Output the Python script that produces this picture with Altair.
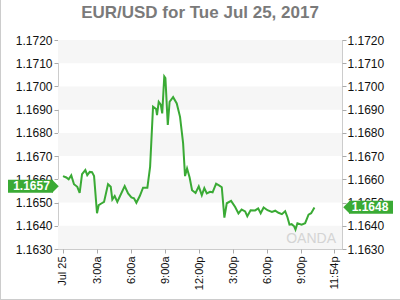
import altair as alt
import pandas as pd

# ---- data ----
hours = [0.00, 0.29, 0.50, 0.73, 0.97, 1.26, 1.47, 1.68, 1.97, 2.14, 2.36, 2.56, 2.74,
         3.00, 3.15, 3.38, 3.62, 3.97, 4.21, 4.35, 4.56, 4.79, 5.00, 5.44, 5.74, 6.03,
         6.26, 6.47, 6.77, 7.06, 7.44, 7.68, 7.94, 8.21, 8.29, 8.44, 8.62, 8.75, 8.93,
         9.03, 9.24, 9.40, 9.71, 10.03, 10.32, 10.59, 10.76, 10.94, 11.16, 11.38, 11.69,
         11.97, 12.24, 12.46, 12.68, 12.97, 13.19, 13.50, 13.79, 14.00, 14.23, 14.44,
         14.82, 15.18, 15.47, 15.75, 16.06, 16.25, 16.54, 16.94, 17.21, 17.43, 17.69,
         18.03, 18.42, 18.71, 19.00, 19.30, 19.59, 19.79, 19.97, 20.16, 20.38, 20.50,
         20.67, 21.04, 21.35, 21.65, 21.88, 22.17]
prices = [1.16614, 1.16608, 1.16600, 1.16617, 1.16579, 1.16568, 1.16542, 1.16622, 1.16640,
          1.16618, 1.16632, 1.16631, 1.16614, 1.16454, 1.16489, 1.16496, 1.16503, 1.16579,
          1.16568, 1.16513, 1.16528, 1.16503, 1.16525, 1.16571, 1.16539, 1.16522, 1.16518,
          1.16499, 1.16528, 1.16564, 1.16564, 1.16654, 1.16913, 1.16903, 1.16877, 1.16934,
          1.16922, 1.16884, 1.17043, 1.17036, 1.16834, 1.16934, 1.16954, 1.16927, 1.16869,
          1.16756, 1.16614, 1.16647, 1.16609, 1.16553, 1.16541, 1.16570, 1.16532, 1.16562,
          1.16539, 1.16546, 1.16544, 1.16581, 1.16573, 1.16566, 1.16435, 1.16497, 1.16507,
          1.16481, 1.16453, 1.16470, 1.16462, 1.16441, 1.16467, 1.16466, 1.16475, 1.16454,
          1.16479, 1.16467, 1.16460, 1.16465, 1.16456, 1.16450, 1.16463, 1.16437, 1.16405,
          1.16407, 1.16398, 1.16384, 1.16411, 1.16405, 1.16411, 1.16448, 1.16454, 1.16479]

y_ticks = [1.1630, 1.1640, 1.1650, 1.1660, 1.1670, 1.1680, 1.1690, 1.1700, 1.1710, 1.1720]
x_tick_hours = [0, 3, 6, 9, 12, 15, 18, 21, 23.9]
x_tick_labels = ["Jul 25", "3:00a", "6:00a", "9:00a", "12:00p", "3:00p", "6:00p", "9:00p", "11:54p"]
band_lo = [1.1710, 1.1690, 1.1670, 1.1650, 1.1630]
band_hi = [1.1720, 1.1700, 1.1680, 1.1660, 1.1640]
prev_close = 1.1657
last_price = 1.1648
title_text = "EUR/USD for Tue Jul 25, 2017"

W, H = 284, 209
GREEN = "#3aaa35"
FONT = "Liberation Sans"

df = pd.DataFrame({"h": hours, "p": prices})
bands = pd.DataFrame({"lo": band_lo, "hi": band_hi})
tags = pd.DataFrame({"p": [prev_close, last_price],
                     "side": ["left", "right"],
                     "label": [f"{prev_close:.4f}", f"{last_price:.4f}"]})

xs = alt.Scale(domain=[-0.44, 24.6], nice=False)
ys = alt.Scale(domain=[1.1630, 1.1720], nice=False, zero=False)

label_expr = ("[" + ",".join(f"'{l}'" for l in x_tick_labels) + "][indexof(["
              + ",".join(str(v) for v in x_tick_hours) + "], datum.value)]")

band_layer = alt.Chart(bands).mark_rect(color="#f6f6f6").encode(
    x=alt.value(0), x2=alt.value(W),
    y=alt.Y("hi:Q", scale=ys, axis=alt.Axis(
        orient="right", values=y_ticks, format=".4f", grid=False, domain=False,
        tickSize=4, tickColor="#aaaaaa", labelPadding=1, labelFontSize=12,
        labelFont=FONT, labelColor="#111111", title=None)),
    y2="lo:Q",
)

line = alt.Chart(df).mark_line(color=GREEN, strokeWidth=2).encode(
    x=alt.X("h:Q", scale=xs, axis=alt.Axis(
        values=x_tick_hours, labelExpr=label_expr, labelAngle=-90, labelAlign="right",
        labelBaseline="middle", grid=False, domain=False, tickSize=4, tickColor="#aaaaaa",
        labelPadding=3, labelFontSize=11, labelFont=FONT, labelColor="#111111", title=None)),
    y=alt.Y("p:Q", scale=ys, axis=alt.Axis(
        orient="left", values=y_ticks, format=".4f", grid=False, domain=False,
        tickSize=4, tickColor="#aaaaaa", labelPadding=2, labelFontSize=12,
        labelFont=FONT, labelColor="#111111", title=None)),
)

left_tag = tags[tags.side == "left"]
right_tag = tags[tags.side == "right"]

ltag_rect = alt.Chart(left_tag).mark_rect(color=GREEN, height=13).encode(
    x=alt.value(-50), x2=alt.value(-5), y=alt.Y("p:Q", scale=ys, axis=None))
ltag_tri = alt.Chart(left_tag).mark_point(
    shape="M -0.5 -1 L 0.5 0 L -0.5 1 Z", filled=True, opacity=1, color=GREEN, size=169
).encode(x=alt.value(-2.5), y=alt.Y("p:Q", scale=ys, axis=None))
ltag_txt = alt.Chart(left_tag).mark_text(
    color="white", font=FONT, fontSize=12, fontWeight="bold", align="center", baseline="middle"
).encode(x=alt.value(-26.5), y=alt.Y("p:Q", scale=ys, axis=None), text="label:N")

rtag_rect = alt.Chart(right_tag).mark_rect(color=GREEN, height=13).encode(
    x=alt.value(W + 7), x2=alt.value(W + 51), y=alt.Y("p:Q", scale=ys, axis=None))
rtag_tri = alt.Chart(right_tag).mark_point(
    shape="M 0.5 -1 L -0.5 0 L 0.5 1 Z", filled=True, opacity=1, color=GREEN, size=169
).encode(x=alt.value(W + 4.5), y=alt.Y("p:Q", scale=ys, axis=None))
rtag_txt = alt.Chart(right_tag).mark_text(
    color="white", font=FONT, fontSize=12, fontWeight="bold", align="center", baseline="middle"
).encode(x=alt.value(W + 28), y=alt.Y("p:Q", scale=ys, axis=None), text="label:N")

watermark = alt.Chart(pd.DataFrame({"t": ["OANDA"]})).mark_text(
    color="#d4d4d4", font=FONT, fontSize=14, align="right", baseline="alphabetic"
).encode(x=alt.value(W - 6), y=alt.value(H - 6), text="t:N")

title = alt.Chart(pd.DataFrame({"t": [title_text]})).mark_text(
    color="#7a7a7a", font=FONT, fontSize=17, fontWeight="bold", align="center",
    baseline="alphabetic"
).encode(x=alt.value(W / 2), y=alt.value(-22), text="t:N")

outer_left = alt.Chart(pd.DataFrame({"a": [0]})).mark_rule(color="#cccccc", strokeWidth=1).encode(
    x=alt.value(-57.5), y=alt.value(-40), y2=alt.value(H + 51))
outer_bottom = alt.Chart(pd.DataFrame({"a": [0]})).mark_rule(color="#cccccc", strokeWidth=1).encode(
    y=alt.value(H + 50.5), x=alt.value(-58), x2=alt.value(W + 58))

chart = alt.layer(
    band_layer, line, watermark, title, ltag_rect, ltag_tri, ltag_txt,
    rtag_rect, rtag_tri, rtag_txt, outer_left, outer_bottom
).resolve_axis(y="independent").properties(
    width=W, height=H,
    autosize=alt.AutoSizeParams(type="none"),
    padding={"left": 58, "top": 40, "right": 58, "bottom": 51},
    background="white",
).configure_view(stroke="#cccccc", strokeWidth=1)

chart.save("out.html", embed_options={"renderer": "svg", "actions": False})
